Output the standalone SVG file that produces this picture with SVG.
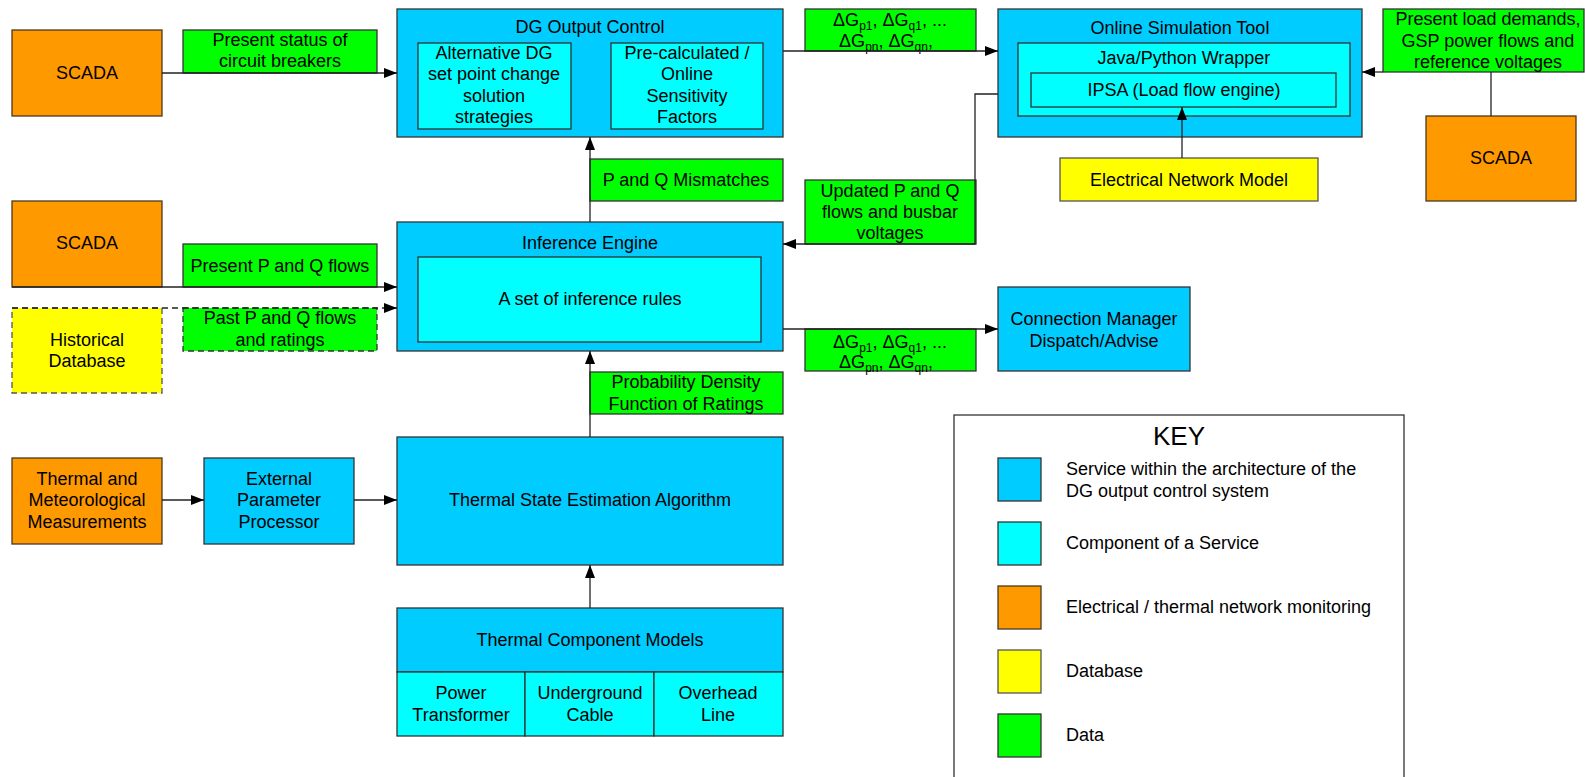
<svg xmlns="http://www.w3.org/2000/svg" width="1585" height="777" viewBox="0 0 1585 777">
<style>
text{font-family:"Liberation Sans",Arial,sans-serif;font-size:18px;fill:#000;text-anchor:middle}
.svc{fill:#00CCFF;stroke:#333;stroke-width:1.3}
.cmp{fill:#00FFFF;stroke:#333;stroke-width:1.3}
.mon{fill:#FF9900;stroke:#4a3a20;stroke-width:1.3}
.db{fill:#FFFF00;stroke:#555;stroke-width:1.3}
.dat{fill:#00FF00;stroke:#333;stroke-width:1.3}
.dash{stroke-dasharray:6 4}
.con{fill:none;stroke:#222;stroke-width:1.3}
.key{text-anchor:start}
.sub{font-size:12px}
</style>
<defs>
<marker id="ah" markerUnits="userSpaceOnUse" markerWidth="14" markerHeight="10" refX="13" refY="5" orient="auto">
<path d="M0,0 L13,5 L0,10 z" fill="#000"/>
</marker>
</defs>
<g id="scada1"><rect class="mon" x="12" y="30" width="150" height="86"/><text x="87" y="79">SCADA</text></g>
<g id="data-cb"><rect class="dat" x="183" y="30" width="194" height="43"/><text x="280" y="46">Present status of</text><text x="280" y="67">circuit breakers</text></g>
<g id="dg-output-control">
<rect class="svc" x="397" y="9" width="386" height="128"/>
<text x="590" y="33">DG Output Control</text>
<rect class="cmp" x="418" y="43" width="153" height="86"/>
<text x="494" y="59">Alternative DG</text><text x="494" y="80">set point change</text><text x="494" y="102">solution</text><text x="494" y="123">strategies</text>
<rect class="cmp" x="611" y="43" width="152" height="86"/>
<text x="687" y="59">Pre-calculated /</text><text x="687" y="80">Online</text><text x="687" y="102">Sensitivity</text><text x="687" y="123">Factors</text>
</g>
<g id="data-dg-top"><rect class="dat" x="805" y="9" width="171" height="42"/>
<text x="890" y="26">ΔG<tspan class="sub" dy="4">p1</tspan><tspan dy="-4">, ΔG</tspan><tspan class="sub" dy="4">q1</tspan><tspan dy="-4">, ...</tspan></text>
<text x="886" y="47">ΔG<tspan class="sub" dy="4">pn</tspan><tspan dy="-4">, ΔG</tspan><tspan class="sub" dy="4">qn</tspan><tspan dy="-4">,</tspan></text>
</g>
<g id="online-sim">
<rect class="svc" x="998" y="9" width="364" height="128"/>
<text x="1180" y="34">Online Simulation Tool</text>
<rect class="cmp" x="1018" y="43" width="332" height="73"/>
<text x="1184" y="64">Java/Python Wrapper</text>
<rect class="cmp" x="1031" y="73" width="305" height="34"/>
<text x="1184" y="96">IPSA (Load flow engine)</text>
</g>
<g id="data-load"><rect class="dat" x="1383" y="9" width="201" height="63"/>
<text x="1488" y="25">Present load demands,</text><text x="1488" y="47">GSP power flows and</text><text x="1488" y="68">reference voltages</text></g>
<g id="scada3"><rect class="mon" x="1426" y="116" width="150" height="85"/><text x="1501" y="164">SCADA</text></g>
<g id="enm"><rect class="db" x="1060" y="158" width="258" height="43"/><text x="1189" y="186">Electrical Network Model</text></g>
<g id="data-mismatch"><rect class="dat" x="590" y="159" width="193" height="42"/><text x="686" y="186">P and Q Mismatches</text></g>
<g id="data-updated"><rect class="dat" x="805" y="180" width="171" height="64"/>
<text x="890" y="197">Updated P and Q</text><text x="890" y="218">flows and busbar</text><text x="890" y="239">voltages</text></g>
<g id="inference-engine">
<rect class="svc" x="397" y="222" width="386" height="129"/>
<text x="590" y="249">Inference Engine</text>
<rect class="cmp" x="418" y="257" width="343" height="85"/>
<text x="590" y="305">A set of inference rules</text>
</g>
<g id="scada2"><rect class="mon" x="12" y="201" width="150" height="86"/><text x="87" y="249">SCADA</text></g>
<g id="data-present-pq"><rect class="dat" x="183" y="244" width="194" height="43"/><text x="280" y="272">Present P and Q flows</text></g>
<g id="historical-db"><rect class="db dash" x="12" y="308" width="150" height="85"/><text x="87" y="346">Historical</text><text x="87" y="367">Database</text></g>
<g id="data-past-pq"><rect class="dat dash" x="183" y="308" width="194" height="43"/><text x="280" y="324">Past P and Q flows</text><text x="280" y="346">and ratings</text></g>
<g id="data-dg-bottom"><rect class="dat" x="805" y="329" width="171" height="42"/>
<text x="890" y="348">ΔG<tspan class="sub" dy="4">p1</tspan><tspan dy="-4">, ΔG</tspan><tspan class="sub" dy="4">q1</tspan><tspan dy="-4">, ...</tspan></text>
<text x="886" y="368">ΔG<tspan class="sub" dy="4">pn</tspan><tspan dy="-4">, ΔG</tspan><tspan class="sub" dy="4">qn</tspan><tspan dy="-4">,</tspan></text>
</g>
<g id="connection-manager"><rect class="svc" x="998" y="287" width="192" height="84"/><text x="1094" y="325">Connection Manager</text><text x="1094" y="347">Dispatch/Advise</text></g>
<g id="data-pdf"><rect class="dat" x="590" y="372" width="193" height="42"/><text x="686" y="388">Probability Density</text><text x="686" y="410">Function of Ratings</text></g>
<g id="tsea"><rect class="svc" x="397" y="437" width="386" height="128"/><text x="590" y="506">Thermal State Estimation Algorithm</text></g>
<g id="thermal-met"><rect class="mon" x="12" y="458" width="150" height="86"/><text x="87" y="485">Thermal and</text><text x="87" y="506">Meteorological</text><text x="87" y="528">Measurements</text></g>
<g id="epp"><rect class="svc" x="204" y="458" width="150" height="86"/><text x="279" y="485">External</text><text x="279" y="506">Parameter</text><text x="279" y="528">Processor</text></g>
<g id="tcm">
<rect class="svc" x="397" y="608" width="386" height="64"/>
<text x="590" y="646">Thermal Component Models</text>
<rect class="cmp" x="397" y="672" width="128" height="64"/>
<rect class="cmp" x="525" y="672" width="129" height="64"/>
<rect class="cmp" x="654" y="672" width="129" height="64"/>
<text x="461" y="699">Power</text><text x="461" y="721">Transformer</text>
<text x="590" y="699">Underground</text><text x="590" y="721">Cable</text>
<text x="718" y="699">Overhead</text><text x="718" y="721">Line</text>
</g>
<g id="key">
<rect x="954" y="415" width="450" height="380" fill="#fff" stroke="#333" stroke-width="1.3"/>
<text x="1179" y="445" style="font-size:26px">KEY</text>
<rect class="svc" x="998" y="458" width="43" height="43"/>
<text class="key" x="1066" y="475">Service within the architecture of the</text>
<text class="key" x="1066" y="497">DG output control system</text>
<rect class="cmp" x="998" y="522" width="43" height="43"/>
<text class="key" x="1066" y="549">Component of a Service</text>
<rect class="mon" x="998" y="586" width="43" height="43"/>
<text class="key" x="1066" y="613">Electrical / thermal network monitoring</text>
<rect class="db" x="998" y="650" width="43" height="43"/>
<text class="key" x="1066" y="677">Database</text>
<rect class="dat" x="998" y="714" width="43" height="43"/>
<text class="key" x="1066" y="741">Data</text>
</g>
<g id="connectors">
<path class="con" d="M162,73 H397" marker-end="url(#ah)"/>
<path class="con" d="M783,51 H998" marker-end="url(#ah)"/>
<path class="con" d="M1383,72 H1362" marker-end="url(#ah)"/>
<path class="con" d="M1491,116 V72"/>
<path class="con" d="M1182,158 V107" marker-end="url(#ah)"/>
<path class="con" d="M998,94 H975 V244 H783" marker-end="url(#ah)"/>
<path class="con" d="M590,222 V137" marker-end="url(#ah)"/>
<path class="con" d="M12,287 H397" marker-end="url(#ah)"/>
<path class="con dash" d="M12,308 H397" marker-end="url(#ah)"/>
<path class="con" d="M783,329 H998" marker-end="url(#ah)"/>
<path class="con" d="M590,437 V351" marker-end="url(#ah)"/>
<path class="con" d="M162,500 H204" marker-end="url(#ah)"/>
<path class="con" d="M354,500 H397" marker-end="url(#ah)"/>
<path class="con" d="M590,608 V565" marker-end="url(#ah)"/>
</g>
</svg>
